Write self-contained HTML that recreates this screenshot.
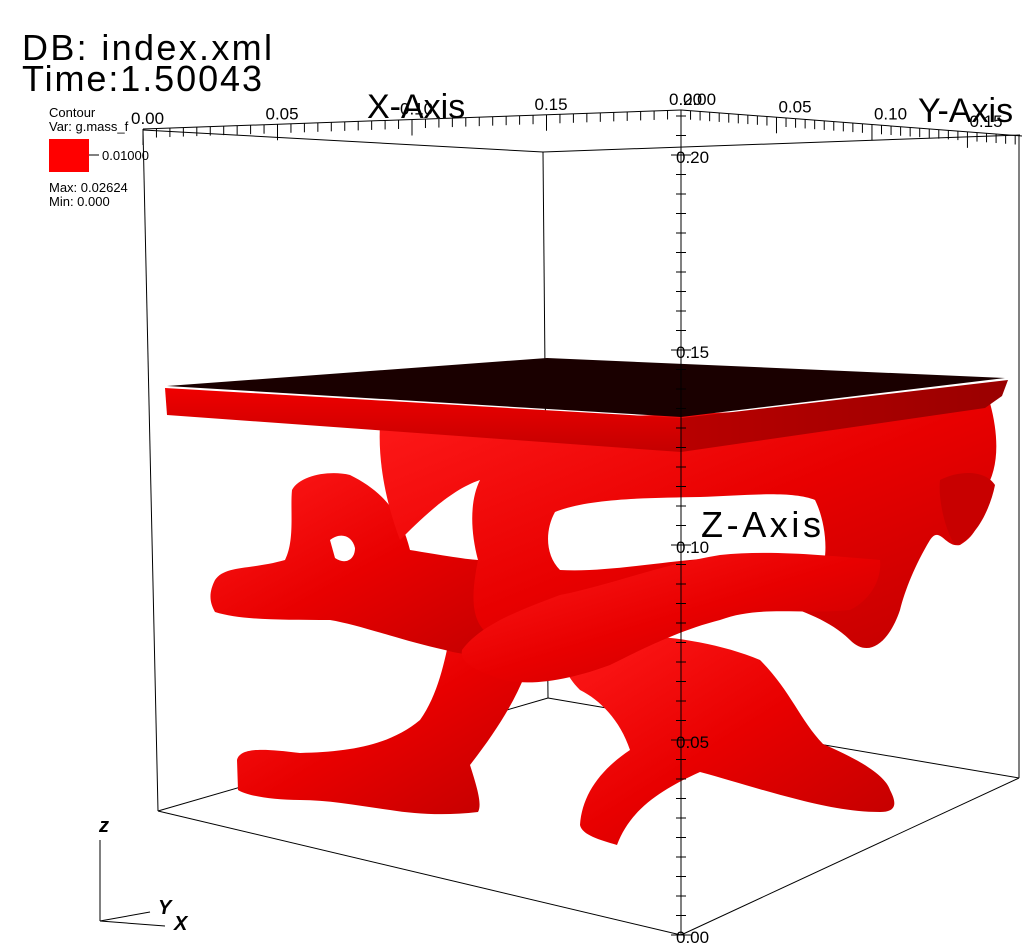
<!DOCTYPE html>
<html><head><meta charset="utf-8"><style>
html,body{margin:0;padding:0;background:#fff;}
svg{display:block;font-family:"Liberation Sans",sans-serif;}
</style></head><body>
<svg id="chart" width="1022" height="945" viewBox="0 0 1022 945" xmlns="http://www.w3.org/2000/svg">
<defs>
<linearGradient id="rg" x1="0" y1="0" x2="1" y2="1">
<stop offset="0" stop-color="#ff1a1a"/><stop offset="0.5" stop-color="#e80000"/><stop offset="1" stop-color="#c00000"/>
</linearGradient>
<linearGradient id="edgeL" x1="0" y1="0" x2="0" y2="1"><stop offset="0" stop-color="#f00000"/><stop offset="1" stop-color="#c40000"/></linearGradient>
<linearGradient id="edgeR" x1="0" y1="0" x2="1" y2="0"><stop offset="0" stop-color="#b80000"/><stop offset="1" stop-color="#9a0000"/></linearGradient>
</defs>

<g stroke="#000" stroke-width="1" fill="none">
<line x1="143" y1="130" x2="543" y2="152"/>
<line x1="543" y1="152" x2="1020" y2="135"/>
<line x1="543" y1="152" x2="548" y2="698"/>
<line x1="158" y1="811" x2="548" y2="698"/>
<line x1="548" y1="698" x2="1019" y2="778"/>
<line x1="143" y1="130" x2="158" y2="811"/>
<line x1="1019" y1="135" x2="1019" y2="778"/>
</g>

<g>
<path fill="url(#rg)" d="M237,760 C240,748 260,748 300,753 C350,752 390,745 420,720 C438,695 445,660 450,635 L535,640 C528,680 505,720 470,765 C478,790 482,805 478,812 C445,816 415,814 390,810 C360,806 330,800 300,800 C270,800 245,795 238,790 Z"/>
<path fill="url(#rg)" d="M560,640 C620,630 700,635 760,660 C790,690 800,720 823,744 C860,760 885,775 890,790 C898,805 895,812 880,812 C850,812 820,805 800,800 C760,790 730,780 700,772 C660,790 630,810 617,845 C600,840 582,835 580,825 C582,795 600,770 630,750 C620,720 600,700 580,690 C565,675 560,660 560,640 Z"/>
<path fill="url(#rg)" d="M215,580 C225,565 250,570 285,560 C295,540 290,510 292,490 C300,475 330,470 350,475 C380,490 400,510 410,550 C440,555 470,560 480,560 L540,620 C520,655 480,660 445,650 C400,640 360,625 330,620 C280,620 240,620 215,612 C208,600 210,590 215,580 Z"/>
<path fill="#fff" d="M330,540 C340,532 352,535 355,548 C355,560 345,565 335,558 Z"/>
<path fill="url(#rg)" d="M380,425 L990,403 C1000,440 998,470 985,490 C978,510 985,530 960,545 C945,548 940,525 930,540 C915,565 905,590 900,610 C890,640 870,660 850,640 C830,620 800,610 770,600 C740,600 700,600 660,620 C620,630 590,640 560,640 C540,660 520,660 500,640 C470,630 470,600 478,560 C470,530 470,500 480,480 C450,490 420,520 400,540 C385,500 378,460 380,425 Z"/>
<path fill="#fff" d="M555,512 C590,498 650,498 700,497 C740,496 790,490 815,500 C825,520 830,555 820,575 C790,560 740,555 690,560 C640,565 600,572 560,570 C545,555 545,530 555,512 Z"/>
<path fill="url(#rg)" d="M462,650 C480,625 520,610 560,595 C610,585 660,565 720,555 C770,550 820,555 880,560 C882,580 870,600 850,610 C800,615 760,605 720,620 C680,630 640,650 610,665 C570,680 520,690 490,675 C470,668 460,660 462,650 Z"/>
<path fill="#c80000" d="M940,480 C960,470 985,470 995,485 C990,510 975,540 955,545 C945,530 938,500 940,480 Z"/>
<polygon fill="url(#edgeL)" points="165,388 681,418 681,452 167,415"/>
<polygon fill="url(#edgeR)" points="681,418 1008,380 1002,396 985,408 681,452"/>
<polygon fill="#1a0000" points="167,386 547,358 1005,378 681,417"/>
</g>

<g stroke="#000" stroke-width="1" fill="none">
<line x1="158" y1="811" x2="681" y2="935"/>
<line x1="681" y1="935" x2="1019" y2="778"/>
<line x1="143" y1="129" x2="681" y2="110"/>
<line x1="681" y1="110" x2="1022" y2="136"/>
<line x1="681" y1="110" x2="681" y2="935"/>
</g>
<g id="ticks" stroke="#000" stroke-width="1"></g>
<g id="labels" font-size="17" fill="#000"></g>

<text x="367" y="118" font-size="34" fill="#000">X-Axis</text>
<text x="918" y="122" font-size="34" fill="#000">Y-Axis</text>
<text x="701" y="537" font-size="36" fill="#000" textLength="120">Z-Axis</text>

<text x="22" y="60" font-size="36" fill="#000" textLength="250">DB: index.xml</text>
<text x="22" y="91" font-size="36" fill="#000" textLength="240">Time:1.50043</text>
<g font-size="13" fill="#000">
<text x="49" y="117">Contour</text>
<text x="49" y="131">Var: g.mass_f</text>
<rect x="49" y="139" width="40" height="33" fill="#ff0000"/>
<line x1="89" y1="155" x2="99" y2="155" stroke="#000"/>
<text x="102" y="160">0.01000</text>
<text x="49" y="192">Max:  0.02624</text>
<text x="49" y="206">Min:  0.000</text>
</g>

<g stroke="#000" fill="none">
<line x1="100" y1="921" x2="100" y2="840"/>
<line x1="100" y1="921" x2="150" y2="912"/>
<line x1="100" y1="921" x2="165" y2="926"/>
</g>
<g font-size="20" font-style="italic" font-weight="bold" fill="#000">
<text x="99" y="832">z</text><text x="158" y="914">Y</text><text x="174" y="930">X</text>
</g>

<script>
const zTicks=[0,0.05,0.10,0.15,0.20];
const zTickLabels=["0.00","0.05","0.10","0.15","0.20"];
const xTicks=[0,0.05,0.10,0.15,0.20];
const xTickLabels=["0.00","0.05","0.10","0.15","0.20"];
const yTicks=[0,0.05,0.10,0.15];
const yTickLabels=["0.00","0.05","0.10","0.15"];
const NS="http://www.w3.org/2000/svg";
const tg=document.getElementById('ticks'), lg=document.getElementById('labels');
function zy(v){return 935-v*3900;}
function xs(v){const t=v/0.2;return [143+t*(681-143),129+t*(110-129)];}
function ys(v){const t=v/0.2;return [681+t*(1022-681)*1.12,110+t*(136-110)*1.12];}
function ln(x1,y1,x2,y2,name){const l=document.createElementNS(NS,'line');l.setAttribute('x1',x1);l.setAttribute('y1',y1);l.setAttribute('x2',x2);l.setAttribute('y2',y2);


tg.appendChild(l);}
function tx(x,y,s,name){const t=document.createElementNS(NS,'text');t.setAttribute('x',x);t.setAttribute('y',y);t.textContent=s;


lg.appendChild(t);}
for(let v=0;v<=0.2101;v+=0.005){const y=zy(v);const maj=Math.abs(v/0.05-Math.round(v/0.05))<1e-6;ln(maj?671:676,y,maj?691:686,y,'z-tick');}
zTicks.forEach((v,i)=>tx(676,zy(v)+8,zTickLabels[i],'z-tick-label'));
for(let v=0;v<=0.2001;v+=0.005){const [x,y]=xs(v);const maj=Math.abs(v/0.05-Math.round(v/0.05))<1e-6;ln(x,y,x,y+(maj?16:9),'x-tick');}
xTicks.forEach((v,i)=>{const [x,y]=xs(v);tx(x-12,y-5,xTickLabels[i],'x-tick-label');});
for(let v=0;v<=0.178;v+=0.005){const [x,y]=ys(v);const maj=Math.abs(v/0.05-Math.round(v/0.05))<1e-6;ln(x,y,x,y+(maj?16:9),'y-tick');}
yTicks.forEach((v,i)=>{const [x,y]=ys(v);tx(x+2,y-5,yTickLabels[i],'y-tick-label');});
</script>
</svg>
</body></html>
